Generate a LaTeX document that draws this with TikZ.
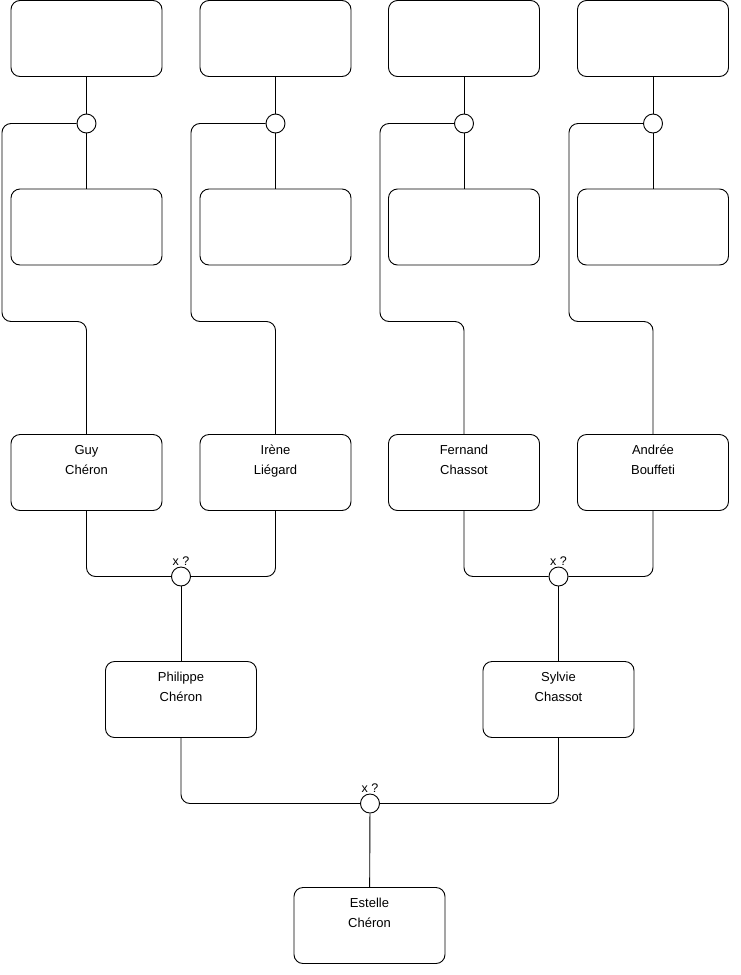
\documentclass[tikz,border=0pt]{standalone}
\usepackage{fontspec}
\setmainfont{Liberation Sans}
\usetikzlibrary{positioning}

\tikzset{
  person/.style={draw, rounded corners=9pt, minimum width=151pt, minimum height=76pt, inner sep=0pt},
  union/.style={draw, circle, minimum size=19pt, inner sep=0pt, fill=white},
  link/.style={rounded corners=9pt},
  namelabel/.style={align=center, anchor=base, inner sep=0pt, font=\fontsize{13}{20}\selectfont},
  guess/.style={font=\fontsize{12.5}{14}\selectfont, inner sep=1pt},
}

\begin{document}
\begin{tikzpicture}[x=1pt, y=-1pt, line width=0.9pt]
\useasboundingbox (0,0) rectangle (740,975);

% unknown grandparents, one column per grandparent
\foreach \i/\cx/\lx in {1/86.5/2, 2/275.5/191, 3/464/380, 4/653/569} {
  \node[person] (t\i) at (\cx,38.5) {};
  \node[union] (u\i) at (\cx,123.5) {};
  \node[person] (s\i) at (\cx,227) {};
  \coordinate (k\i) at (\lx,321.5);
}

% grandparents
\node[person] (guy) at (86.5,472.5) {};
\node[namelabel] at ([yshift=-40pt]guy.north) {Guy\\Chéron};
\node[person] (irene) at (275.5,472.5) {};
\node[namelabel] at ([yshift=-40pt]irene.north) {Irène\\Liégard};
\node[person] (fernand) at (464,472.5) {};
\node[namelabel] at ([yshift=-40pt]fernand.north) {Fernand\\Chassot};
\node[person] (andree) at (653,472.5) {};
\node[namelabel] at ([yshift=-40pt]andree.north) {Andrée\\Bouffeti};

% parents
\node[union, label={[guess]above:x ?}] (m1) at (181,576.5) {};
\node[union, label={[guess]above:x ?}] (m2) at (558.5,576.5) {};
\node[person] (philippe) at (181,699.5) {};
\node[namelabel] at ([yshift=-40pt]philippe.north) {Philippe\\Chéron};
\node[person] (sylvie) at (558.5,699.5) {};
\node[namelabel] at ([yshift=-40pt]sylvie.north) {Sylvie\\Chassot};

% child
\node[union, label={[guess]above:x ?}] (m3) at (370,803.5) {};
\node[person] (estelle) at (369.5,925.5) {};
\node[namelabel] at ([yshift=-40pt]estelle.north) {Estelle\\Chéron};

% connectors
\foreach \i in {1,...,4} {
  \draw (t\i) -- (u\i);
  \draw (u\i) -- (s\i);
}
\draw[link] (u1.west) -| (k1) -| (guy.north);
\draw[link] (u2.west) -| (k2) -| (irene.north);
\draw[link] (u3.west) -| (k3) -| (fernand.north);
\draw[link] (u4.west) -| (k4) -| (andree.north);

\draw[link] (guy.south) |- (m1.west);
\draw[link] (irene.south) |- (m1.east);
\draw (m1) -- (philippe);
\draw[link] (fernand.south) |- (m2.west);
\draw[link] (andree.south) |- (m2.east);
\draw (m2) -- (sylvie);
\draw[link] (philippe.south) |- (m3.west);
\draw[link] (sylvie.south) |- (m3.east);
\draw (m3) -- (estelle);
\end{tikzpicture}
\end{document}
